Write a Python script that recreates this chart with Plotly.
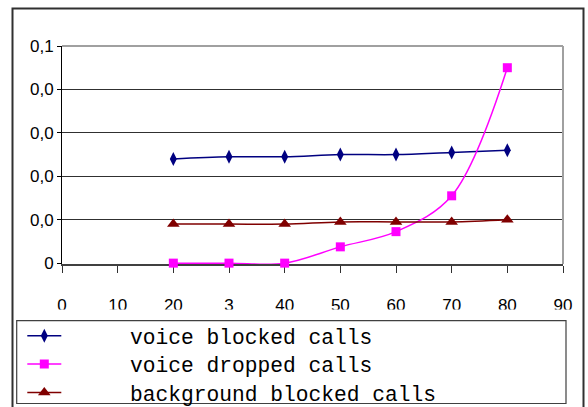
import plotly.graph_objects as go

# ---- data ----
x_vals = [20, 30, 40, 50, 60, 70, 80]
voice_blocked = [0.048, 0.049, 0.049, 0.050, 0.050, 0.051, 0.052]
voice_dropped = [0.0, 0.0, 0.0, 0.0075, 0.0145, 0.031, 0.090]
background_blocked = [0.018, 0.018, 0.018, 0.019, 0.019, 0.019, 0.020]

x_tickvals = [0, 10, 20, 30, 40, 50, 60, 70, 80, 90]
x_ticktext = ["0", "10", "20", "3", "40", "50", "60", "70", "80", "90"]
y_tickvals = [0, 0.02, 0.04, 0.06, 0.08, 0.1]
y_ticktext = ["0", "0,0", "0,0", "0,0", "0,0", "0,1"]

names = ["voice blocked calls", "voice dropped calls", "background blocked calls"]
pad = "\u00a0" * 5

fig = go.Figure()
fig.add_trace(go.Scatter(
    x=x_vals, y=voice_blocked, name=pad + names[0], mode="lines+markers",
    line=dict(color="#000080", width=1.5, shape="spline"),
    marker=dict(symbol="diamond-tall", size=10, color="#000080"),
    legend="legend", cliponaxis=False))
fig.add_trace(go.Scatter(
    x=x_vals, y=voice_dropped, name=pad + names[1], mode="lines+markers",
    line=dict(color="#FF00FF", width=1.5, shape="spline"),
    marker=dict(symbol="square", size=9, color="#FF00FF"),
    legend="legend2", cliponaxis=False))
fig.add_trace(go.Scatter(
    x=x_vals, y=background_blocked, name=pad + names[2], mode="lines+markers",
    line=dict(color="#800000", width=1.5, shape="spline"),
    marker=dict(symbol="triangle-up", size=11, color="#800000"),
    legend="legend3", cliponaxis=False))

L, R, T, B = 62, 25, 46, 143
W, H = 588, 407
pw, ph = W - L - R, H - T - B


def px(xp):
    return (xp - L) / pw


def py(yp):
    return (H - B - yp) / ph


leg_font = dict(family="Liberation Mono", size=21.25, color="black")
leg_common = dict(xanchor="left", yanchor="middle", bgcolor="rgba(0,0,0,0)",
                  borderwidth=0, font=leg_font, itemwidth=34,
                  xref="paper", yref="paper")

shapes = [
    # outer chart frame
    dict(type="rect", xref="paper", yref="paper", x0=px(12.5), x1=px(583.5),
         y0=py(430), y1=py(8.5), line=dict(color="#303030", width=2),
         fillcolor="rgba(0,0,0,0)", layer="above"),
    # white mask clipping the x tick labels
    dict(type="rect", xref="paper", yref="paper", x0=px(15), x1=px(575),
         y0=py(405), y1=py(309.5), line=dict(width=0),
         fillcolor="white", layer="above"),
    # legend box
    dict(type="rect", xref="paper", yref="paper", x0=px(16.7), x1=px(566),
         y0=py(403.5), y1=py(320.7), line=dict(color="#404040", width=1.2),
         fillcolor="rgba(0,0,0,0)", layer="above"),
    # plot area top/right border (gray)
    dict(type="line", xref="paper", yref="paper", x0=0, x1=1, y0=1, y1=1,
         line=dict(color="#a0a0a0", width=2), layer="above"),
    dict(type="line", xref="paper", yref="paper", x0=1, x1=1, y0=0, y1=1,
         line=dict(color="#a0a0a0", width=2), layer="above"),
]

fig.update_layout(
    width=W, height=H,
    margin=dict(l=L, r=R, t=T, b=B, autoexpand=False),
    paper_bgcolor="white", plot_bgcolor="white",
    font=dict(family="Liberation Sans", size=17, color="black"),
    showlegend=True,
    legend=dict(x=px(22.3), y=py(336), **leg_common),
    legend2=dict(x=px(22.3), y=py(364.3), **leg_common),
    legend3=dict(x=px(22.3), y=py(392.7), **leg_common),
    shapes=shapes,
    xaxis=dict(range=[0, 90], tickvals=x_tickvals, ticktext=x_ticktext,
               showgrid=False, zeroline=False, showline=True,
               linecolor="#404040", linewidth=2, layer="below traces",
               ticks="outside", ticklen=7, tickcolor="#303030", tickwidth=1,
               ticklabelstandoff=18, tickfont=dict(size=17)),
    yaxis=dict(range=[-0.0004, 0.1], tickvals=y_tickvals, ticktext=y_ticktext,
               showgrid=True, gridcolor="#303030", gridwidth=1,
               zeroline=False, showline=True, linecolor="black", linewidth=1,
               ticks="outside", ticklen=4, tickcolor="black", tickwidth=1,
               tickfont=dict(size=17)),
)

fig.write_html("out.html",
               config={"displayModeBar": False},
               post_script="document.body.style.margin='0';"
                           "document.body.style.overflow='hidden';")
